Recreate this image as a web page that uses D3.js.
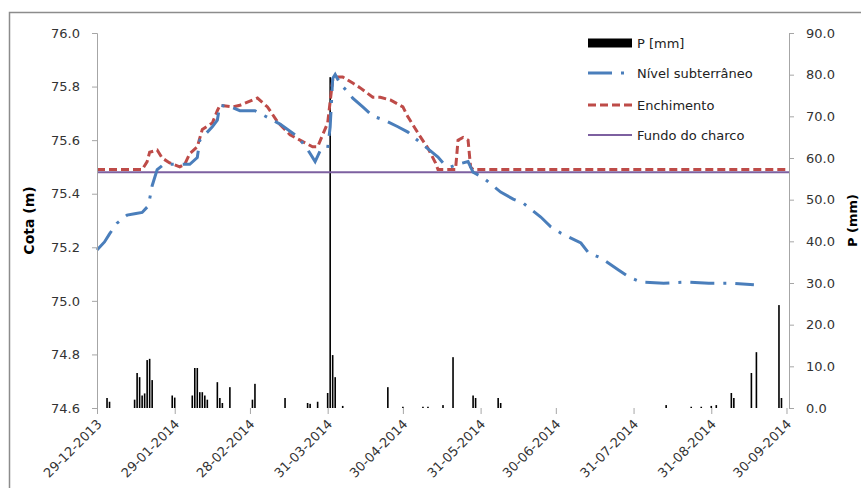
<!DOCTYPE html>
<html>
<head>
<meta charset="utf-8">
<script src="https://cdn.jsdelivr.net/npm/d3@7"></script>
<style>
  html, body { margin: 0; padding: 0; background: #fff; }
  svg { display: block; font-family: "DejaVu Sans", sans-serif; }
</style>
</head>
<body>
<svg id="chart" width="861" height="488"></svg>
<script>
// ---------- DATA ----------
const xTickDates = ["2013-12-29","2014-01-29","2014-02-28","2014-03-31","2014-04-30","2014-05-31","2014-06-30","2014-07-31","2014-08-31","2014-09-30"];
const yLeftTicks = [74.6, 74.8, 75.0, 75.2, 75.4, 75.6, 75.8, 76.0];
const yRightTicks = [0, 10, 20, 30, 40, 50, 60, 70, 80, 90];

// Precipitação diária P [mm]
const rainDates = ["2014-01-02","2014-01-03","2014-01-13","2014-01-14","2014-01-15","2014-01-16","2014-01-17","2014-01-18","2014-01-19","2014-01-20",
  "2014-01-28","2014-01-29","2014-02-05","2014-02-06","2014-02-07","2014-02-08","2014-02-09","2014-02-10","2014-02-11",
  "2014-02-15","2014-02-16","2014-02-17","2014-02-20","2014-03-01","2014-03-02","2014-03-14","2014-03-23","2014-03-24","2014-03-27",
  "2014-03-31","2014-04-01","2014-04-02","2014-04-03","2014-04-06","2014-04-24","2014-04-30","2014-05-08","2014-05-10","2014-05-16",
  "2014-05-20","2014-05-28","2014-05-29","2014-06-07","2014-06-08","2014-08-13","2014-08-23","2014-08-27","2014-08-31","2014-09-02",
  "2014-09-08","2014-09-09","2014-09-16","2014-09-18","2014-09-27","2014-09-28"];
const rainValues = [2.4,1.5,2.0,8.4,7.4,3.0,3.5,11.5,11.8,6.7,
  3.0,2.5,3.0,9.6,9.6,3.8,3.8,3.0,2.0,
  6.2,2.4,1.2,5.0,2.0,5.8,2.4,1.2,1.0,1.5,
  3.6,79.4,12.7,7.4,0.5,5.0,0.3,0.3,0.3,0.7,
  12.2,3.0,2.4,2.4,1.2,0.7,0.3,0.3,0.5,0.7,
  3.6,2.4,8.4,13.4,24.7,2.4];

// Nível subterrâneo (m)
const levelDates = ["2013-12-29","2014-01-01","2014-01-03","2014-01-06","2014-01-10","2014-01-13","2014-01-16","2014-01-18","2014-01-19","2014-01-20",
  "2014-01-22","2014-01-24","2014-01-27","2014-01-31","2014-02-04","2014-02-07","2014-02-08","2014-02-11","2014-02-13","2014-02-15",
  "2014-02-16","2014-02-20","2014-02-24","2014-03-02","2014-03-06","2014-03-12","2014-03-18","2014-03-22","2014-03-24","2014-03-26",
  "2014-03-28","2014-03-31","2014-04-01","2014-04-02","2014-04-03","2014-04-05","2014-04-08","2014-04-10","2014-04-14","2014-04-18",
  "2014-04-21","2014-04-24","2014-04-28","2014-05-02","2014-05-07","2014-05-11","2014-05-14","2014-05-16","2014-05-19","2014-05-22",
  "2014-05-26","2014-05-28","2014-06-01","2014-06-08","2014-06-13","2014-06-17","2014-06-24","2014-06-28","2014-07-02","2014-07-10",
  "2014-07-13","2014-07-18","2014-07-25","2014-07-29","2014-08-03","2014-08-12","2014-08-21","2014-08-30","2014-09-08","2014-09-17"];
const levelValues = [75.19,75.22,75.25,75.29,75.32,75.325,75.33,75.35,75.38,75.43,
  75.49,75.505,75.51,75.51,75.51,75.535,75.60,75.63,75.65,75.675,
  75.73,75.725,75.71,75.71,75.69,75.66,75.62,75.58,75.55,75.52,
  75.56,75.57,75.65,75.83,75.845,75.81,75.78,75.757,75.724,75.69,
  75.68,75.668,75.65,75.63,75.59,75.56,75.537,75.515,75.50,75.51,
  75.52,75.48,75.46,75.406,75.38,75.365,75.313,75.276,75.253,75.216,
  75.18,75.16,75.115,75.09,75.07,75.066,75.07,75.066,75.066,75.06];

// Enchimento (m)
const fillDates = ["2013-12-29","2014-01-16","2014-01-18","2014-01-19","2014-01-22","2014-01-24","2014-01-27","2014-01-31","2014-02-02","2014-02-04",
  "2014-02-07","2014-02-09","2014-02-13","2014-02-15","2014-02-16","2014-02-21","2014-02-24","2014-03-03","2014-03-07","2014-03-11",
  "2014-03-16","2014-03-22","2014-03-25","2014-03-27","2014-03-29","2014-03-31","2014-04-02","2014-04-03","2014-04-06","2014-04-10",
  "2014-04-13","2014-04-18","2014-04-21","2014-04-25","2014-04-30","2014-05-02","2014-05-07","2014-05-10","2014-05-13","2014-05-14",
  "2014-05-21","2014-05-22","2014-05-24","2014-05-26","2014-05-27","2014-05-28","2014-10-01"];
const fillValues = [75.49,75.49,75.52,75.555,75.563,75.533,75.515,75.50,75.51,75.55,
  75.575,75.64,75.664,75.71,75.73,75.724,75.73,75.757,75.724,75.668,
  75.62,75.59,75.575,75.575,75.62,75.664,75.825,75.836,75.836,75.813,
  75.795,75.76,75.76,75.75,75.724,75.687,75.612,75.57,75.515,75.49,
  75.49,75.60,75.61,75.60,75.50,75.49,75.49];

// Fundo do charco (m)
const bottomLevel = 75.48;

const legendLabels = ["P [mm]", "Nível subterrâneo", "Enchimento", "Fundo do charco"];

// ---------- CHART ----------
const parse = d3.timeParse("%Y-%m-%d");
const fmtDate = d3.timeFormat("%d-%m-%Y");
const svg = d3.select("#chart");

const L = 97, R = 789, T = 33, B = 408;
const x = d3.scaleTime().domain([parse("2013-12-29"), parse("2014-10-01")]).range([L, R]);
const yL = d3.scaleLinear().domain([74.6, 76.0]).range([B, T]);
const yR = d3.scaleLinear().domain([0, 90]).range([B, T]);

const COL_BLUE = "#4a7ebb", COL_RED = "#be4b48", COL_PURPLE = "#7d60a0";

// outer frame
svg.append("rect").attr("x", 9.5).attr("y", 12.5).attr("width", 900).attr("height", 520)
  .attr("fill", "none").attr("stroke", "#8c8c8c").attr("stroke-width", 1.5);

// bars
const rain = rainDates.map((d, i) => ({ date: parse(d), v: rainValues[i] }));
svg.append("g").selectAll("rect").data(rain).join("rect")
  .attr("x", d => x(d.date) - 0.8)
  .attr("width", 1.6)
  .attr("y", d => yR(d.v))
  .attr("height", d => yR(0) - yR(d.v))
  .attr("fill", "#000");

// Fundo do charco
svg.append("line").attr("x1", L).attr("x2", R)
  .attr("y1", yL(bottomLevel)).attr("y2", yL(bottomLevel))
  .attr("stroke", COL_PURPLE).attr("stroke-width", 2);

// Enchimento
const fill = fillDates.map((d, i) => ({ date: parse(d), v: fillValues[i] }));
svg.append("path").datum(fill)
  .attr("d", d3.line().x(d => x(d.date)).y(d => yL(d.v)))
  .attr("fill", "none").attr("stroke", COL_RED).attr("stroke-width", 3)
  .attr("stroke-dasharray", "8,4");

// Nível subterrâneo
const level = levelDates.map((d, i) => ({ date: parse(d), v: levelValues[i] }));
svg.append("path").datum(level)
  .attr("d", d3.line().x(d => x(d.date)).y(d => yL(d.v)))
  .attr("fill", "none").attr("stroke", COL_BLUE).attr("stroke-width", 3)
  .attr("stroke-dasharray", "24,9,3,9");

// left axis
const axL = svg.append("g").attr("transform", `translate(${L},0)`)
  .call(d3.axisLeft(yL).tickValues(yLeftTicks).tickFormat(d3.format(".1f")).tickSize(5).tickPadding(12));
// right axis
const axR = svg.append("g").attr("transform", `translate(${R},0)`)
  .call(d3.axisRight(yR).tickValues(yRightTicks).tickFormat(d3.format(".1f")).tickSize(5).tickPadding(12));
// bottom axis
const axB = svg.append("g").attr("transform", `translate(0,${B})`)
  .call(d3.axisBottom(x).tickValues(xTickDates.map(parse)).tickFormat(fmtDate).tickSize(6));
axB.select(".domain").remove();
axB.selectAll("text")
  .attr("text-anchor", "end")
  .attr("dy", null).attr("y", null)
  .attr("transform", "translate(5,17) rotate(-45)");

[axL, axR, axB].forEach(a => {
  a.select(".domain").attr("stroke", "#a6a6a6");
  a.selectAll(".tick line").attr("stroke", "#a6a6a6");
  a.selectAll("text").attr("font-family", "DejaVu Sans, sans-serif").attr("font-size", 13).attr("fill", "#333");
});

// axis titles
svg.append("text").attr("transform", `translate(34,${(T + B) / 2}) rotate(-90)`)
  .attr("text-anchor", "middle").attr("font-size", 14).attr("font-weight", "bold").text("Cota (m)");
svg.append("text").attr("transform", `translate(857,${(T + B) / 2}) rotate(-90)`)
  .attr("text-anchor", "middle").attr("font-size", 13).attr("font-weight", "bold").text("P (mm)");

// legend
const lg = svg.append("g");
const lx0 = 588, lx1 = 632, tx = 637;
const rows = [43, 73, 105, 135];
lg.append("rect").attr("x", lx0).attr("y", rows[0] - 4.5).attr("width", lx1 - lx0).attr("height", 9).attr("fill", "#000");
lg.append("line").attr("x1", lx0).attr("x2", lx1).attr("y1", rows[1]).attr("y2", rows[1])
  .attr("stroke", COL_BLUE).attr("stroke-width", 3).attr("stroke-dasharray", "24,9,3,9");
lg.append("line").attr("x1", lx0).attr("x2", lx1).attr("y1", rows[2]).attr("y2", rows[2])
  .attr("stroke", COL_RED).attr("stroke-width", 3).attr("stroke-dasharray", "8,4");
lg.append("line").attr("x1", lx0).attr("x2", lx1).attr("y1", rows[3]).attr("y2", rows[3])
  .attr("stroke", COL_PURPLE).attr("stroke-width", 2);
lg.selectAll("text").data(legendLabels).join("text")
  .attr("x", tx).attr("y", (d, i) => rows[i]).attr("dy", "0.35em")
  .attr("font-size", 13).attr("fill", "#222").text(d => d);
</script>
</body>
</html>
